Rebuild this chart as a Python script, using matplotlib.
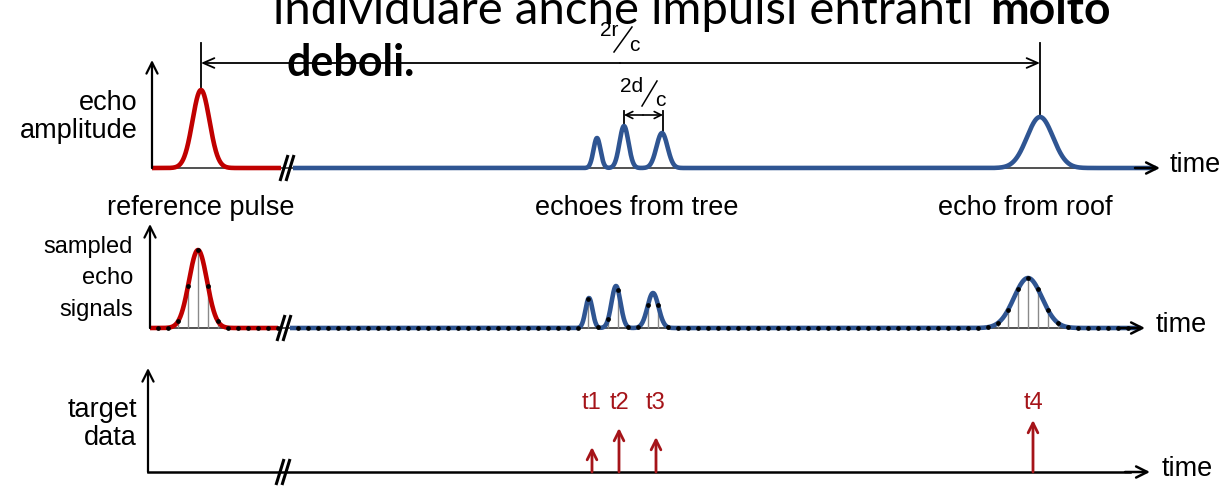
import numpy as np
import matplotlib.pyplot as plt

RED = '#c00000'
BLUE = '#2f5592'
DARKRED = '#a51419'
plt.rcParams['font.family'] = ['Liberation Sans', 'DejaVu Sans']

# panel geometry (pixel rows / columns of the diagram)
base_y = [168, 328, 472]
axis_x = [152, 150, 148]
axis_top = [60, 224, 368]
arrow_end = [1160, 1145, 1150]
break_x = [284, 281, 280]

# pulses: centre, height, width
ref_pulse = [(201, 78, 8.5), (198, 78, 9.0)]
tree_c = [[597, 624, 662], [589, 616, 653]]
tree_h = [[30, 42, 35], [30, 42, 35]]
tree_w = [[3.5, 4.5, 5.5], [3.5, 4.5, 5.5]]
roof_pulse = [(1040, 51, 13), (1028, 50, 14)]
sample_step = 10

# target data
target_x = [592, 619, 656, 1033]
target_h = [25, 44, 35, 52]
target_lab = ['t1', 't2', 't3', 't4']

labels_top = ['reference pulse', 'echoes from tree', 'echo from roof']
labels_top_x = [201, 637, 1025]

fig = plt.figure(figsize=(12.31, 4.98), dpi=100)
ax = fig.add_axes([0, 0, 1, 1])
ax.set_xlim(0, 1231)
ax.set_ylim(498, 0)
ax.axis('off')


def signal(x, pulses, base):
    y = np.zeros_like(x)
    for c, h, w in pulses:
        y += h * np.exp(-0.5 * ((x - c) / w) ** 2)
    return base - y


def arrow(x0, y0, x1, y1, color='black', lw=1.6, style='->', hl=0.7, hw=0.35, z=4):
    ax.annotate('', xy=(x1, y1), xytext=(x0, y0),
                arrowprops=dict(arrowstyle=f'{style},head_length={hl},head_width={hw}',
                                color=color, lw=lw, shrinkA=0, shrinkB=0), zorder=z)


def axes_frame(i, base_color='#333333', base_lw=1.2):
    by, axx = base_y[i], axis_x[i]
    arrow(axx, by, axx, axis_top[i], hl=0.8, hw=0.4)
    ax.plot([axx, arrow_end[i] - 20], [by, by], color=base_color, lw=base_lw, zorder=1)
    arrow(arrow_end[i] - 25, by, arrow_end[i], by, lw=1.8, hl=0.8, hw=0.4, z=5)
    bx = break_x[i]
    for dx in (0, 6):
        ax.plot([bx - 4 + dx, bx + 4 + dx], [by + 13, by - 13], color='black', lw=2.2,
                solid_capstyle='butt', zorder=6)


# ---- panels 1 and 2: echo curves
for i in range(2):
    by = base_y[i]
    axes_frame(i)
    echoes = list(zip(tree_c[i], tree_h[i], tree_w[i])) + [roof_pulse[i]]
    xr = np.linspace(axis_x[i], break_x[i] - 3, 500)
    xb = np.linspace(break_x[i] + 9, arrow_end[i] - 4, 3000)
    ax.plot(xr, signal(xr, [ref_pulse[i]], by), color=RED, lw=3.3, zorder=3,
            solid_capstyle='butt')
    ax.plot(xb, signal(xb, echoes, by), color=BLUE, lw=3.3, zorder=3,
            solid_capstyle='butt')
    if i == 1:
        xs_r = np.arange(ref_pulse[1][0] - 40, break_x[i] - 2, sample_step)
        xs_b = np.arange(ref_pulse[1][0] + 100, arrow_end[i] - 8, sample_step)
        ys_r = signal(xs_r.astype(float), [ref_pulse[1]], by)
        ys_b = signal(xs_b.astype(float), echoes, by)
        xs = np.concatenate([xs_r, xs_b])
        ys = np.concatenate([ys_r, ys_b])
        stem = by - ys > 3
        ax.vlines(xs[stem], by, ys[stem], color='#8a8a8a', lw=1.0, zorder=2)
        ax.plot(xs, ys, 'o', ms=2.4, color='black', zorder=4)

# ---- panel 3: target data
axes_frame(2, base_color='black', base_lw=1.8)
for x, h, lab in zip(target_x, target_h, target_lab):
    arrow(x, base_y[2], x, base_y[2] - h, color=DARKRED, lw=2.0, hl=0.7, hw=0.35)
    ax.text(x, 403, lab, color=DARKRED, fontsize=17, ha='center', va='center')

# ---- axis labels
ax.text(138, 103, 'echo', fontsize=19.5, ha='right', va='center')
ax.text(138, 131, 'amplitude', fontsize=19.5, ha='right', va='center')
ax.text(133, 247, 'sampled', fontsize=17, ha='right', va='center')
ax.text(133, 278, 'echo', fontsize=17, ha='right', va='center')
ax.text(133, 310, 'signals', fontsize=17, ha='right', va='center')
ax.text(137, 410, 'target', fontsize=19.5, ha='right', va='center')
ax.text(137, 438, 'data', fontsize=19.5, ha='right', va='center')
for x, y in [(1170, 165), (1156, 325), (1162, 469)]:
    ax.text(x, y, 'time', fontsize=19.5, ha='left', va='center')
for s, x in zip(labels_top, labels_top_x):
    ax.text(x, 208, s, fontsize=19.5, ha='center', va='center')

# ---- dimension marks
ax.plot([201, 201], [43, 89], color='black', lw=1.3)
ax.plot([1040, 1040], [43, 116], color='black', lw=1.3)
arrow(620, 63, 201, 63, lw=1.3, hl=0.8, hw=0.35)
arrow(620, 63, 1040, 63, lw=1.3, hl=0.8, hw=0.35)
ax.text(609, 30, '2r', fontsize=15, ha='center', va='center')
ax.plot([614, 632], [52, 27], color='black', lw=1.1)
ax.text(634, 45, 'c', fontsize=15, ha='center', va='center')

ax.plot([624, 624], [111, 125], color='black', lw=1.3)
ax.plot([663, 663], [111, 132], color='black', lw=1.3)
arrow(643, 115, 624, 115, lw=1.2, hl=0.5, hw=0.25)
arrow(643, 115, 663, 115, lw=1.2, hl=0.5, hw=0.25)
ax.text(632, 86, '2d', fontsize=15, ha='center', va='center')
ax.plot([642, 657], [106, 81], color='black', lw=1.1)
ax.text(660, 100, 'c', fontsize=15, ha='center', va='center')

# ---- overlay slide text
renderer = fig.canvas.get_renderer()


def fit_text(x, y, s, width, **kw):
    t = ax.text(x, y, s, **kw)
    bb = t.get_window_extent(renderer)
    t.set_fontsize(t.get_fontsize() * width / bb.width)
    return t


fit_text(273, 24, 'individuare anche impulsi entranti', 700, fontsize=28,
         family='Lato', va='baseline', zorder=10)
fit_text(990, 24, 'molto', 120, fontsize=28, family='Lato',
         weight='bold', va='baseline', zorder=10)
fit_text(287, 76, 'deboli.', 128, fontsize=28, family='Lato',
         weight='bold', va='baseline', zorder=10)

fig.savefig('out.png', dpi=100)
